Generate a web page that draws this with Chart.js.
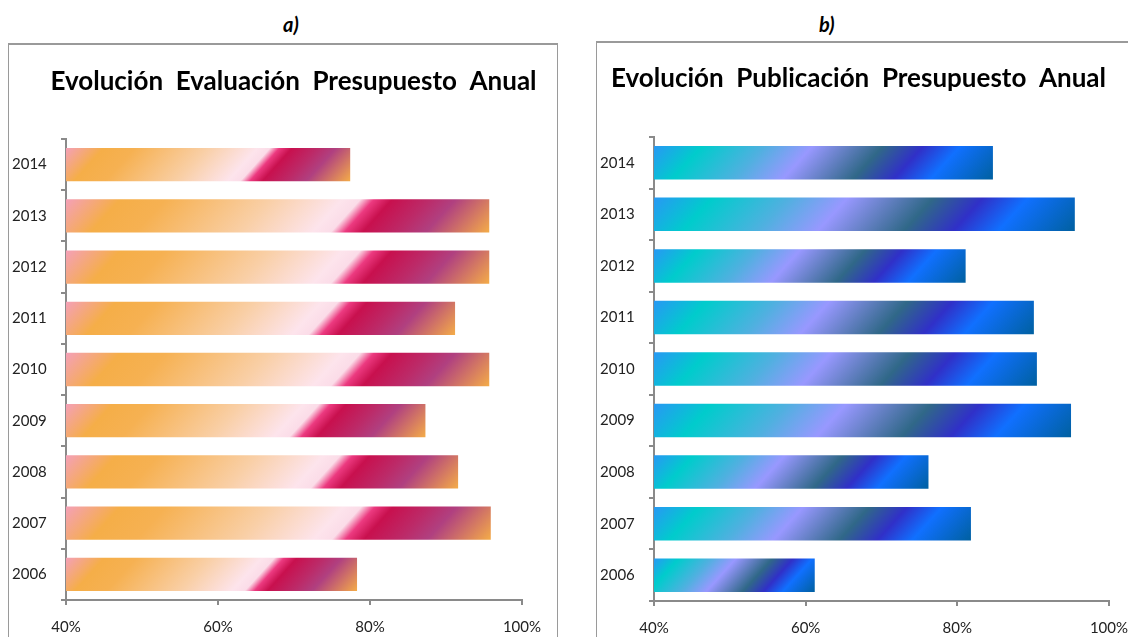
<!DOCTYPE html>
<html>
<head>
<meta charset="utf-8">
<script src="https://cdn.jsdelivr.net/npm/chart.js@4"></script>
<style>
  body { margin: 0; width: 1128px; height: 637px; overflow: hidden; background: #fff; font-family: Lato, "Open Sans", sans-serif; position: relative; }
  .lbl { position: absolute; top: 12px; font: italic bold 20px Lato, sans-serif; color: #000; }
  .box { position: absolute; border: 1px solid #9a9a9a; border-top-width: 2px; background: #fff; }
  canvas { position: absolute; }
</style>
</head>
<body>
<div class="lbl" style="left:283px">a)</div>
<div class="lbl" style="left:819px">b)</div>
<div class="box" style="left:8px; top:43px; width:548px; height:620px;"></div>
<div class="box" style="left:596px; top:41px; width:560px; height:620px;"></div>
<canvas id="chartA" width="545" height="593" style="left:9px; top:44px; width:545px; height:593px;"></canvas>
<canvas id="chartB" width="544" height="595" style="left:597px; top:42px; width:544px; height:595px;"></canvas>
<script>
// Datos (2006 -> 2014)
const years = ["2006", "2007", "2008", "2009", "2010", "2011", "2012", "2013", "2014"];
const evaluacion = [78.3, 95.9, 91.6, 87.3, 95.7, 91.2, 95.7, 95.7, 77.4];
const publicacion = [61.2, 81.8, 76.2, 95.0, 90.5, 90.1, 81.1, 95.5, 84.7];
const xTicks = [40, 60, 80, 100];

const BAR_PCT = 0.65;

// degradados tipo Excel
const warmStops = [
    [0.00, "#f4a0b8"], [0.12, "#f5ae48"], [0.22, "#f6b152"], [0.45, "#f9cfa6"],
    [0.61, "#fde4ec"], [0.65, "#fbdce8"], [0.68, "#ec3a80"], [0.72, "#c8104e"],
    [0.80, "#bc2a68"], [0.86, "#b04080"], [1.00, "#f4ac48"],
];
const coolStops = [
    [0.00, "#2898f4"], [0.13, "#00cccc"], [0.30, "#50b0e0"], [0.43, "#9898ff"],
    [0.62, "#306888"], [0.73, "#3030c8"], [0.83, "#1070ff"], [1.00, "#0060a0"],
];

function barGradient(ctx, stops) {
    const chart = ctx.chart;
    const xs = chart.scales.x, ys = chart.scales.y;
    const fallback = stops[1][1];
    if (!xs || !ys || ctx.raw == null || !chart.chartArea) return fallback;
    const x0 = xs.getPixelForValue(xs.min);
    const x1 = xs.getPixelForValue(ctx.raw);
    const h = (ys.height / years.length) * BAR_PCT;
    const top = ys.getPixelForValue(ctx.dataIndex) - h / 2;
    if (![x0, x1, h, top].every(Number.isFinite)) return fallback;
    const w = Math.max(x1 - x0, 1);
    const t = (w + 0.9 * h) / 1.81;
    const g = chart.ctx.createLinearGradient(x0, top, x0 + t, top + 0.9 * t);
    stops.forEach(([p, c]) => g.addColorStop(p, c));
    return g;
}

const axisColor = "#8a8a8a";
const tickFont = { family: "Lato, 'Open Sans', sans-serif", size: 15 };

function makeChart(id, title, values, stops, opts) {
    return new Chart(document.getElementById(id), {
        type: "bar",
        data: {
            labels: years,
            datasets: [{
                data: values,
                backgroundColor: (c) => barGradient(c, stops),
                borderWidth: 0,
                barPercentage: BAR_PCT,
                categoryPercentage: 1,
            }],
        },
        options: {
            indexAxis: "y",
            responsive: false,
            animation: false,
            layout: { padding: { left: opts.padLeft, right: opts.padRight, top: 0, bottom: 0 } },
            scales: {
                x: {
                    min: 40,
                    max: 100,
                    afterBuildTicks: (s) => { s.ticks = xTicks.map((v) => ({ value: v })); },
                    afterFit: (s) => { s.height = opts.xHeight; },
                    ticks: {
                        font: tickFont,
                        color: "#222",
                        padding: 13,
                        maxRotation: 0,
                        callback: (v) => v + "%",
                    },
                    grid: { drawOnChartArea: false, drawTicks: true, tickLength: 5, color: axisColor, lineWidth: 2 },
                    border: { color: axisColor, width: 2 },
                },
                y: {
                    reverse: true,
                    afterFit: (s) => { s.width = 57 - opts.padLeft; },
                    // etiquetas alineadas a la izquierda, fuera del eje
                    ticks: { font: tickFont, color: "#222", mirror: true, padding: -54 },
                    grid: { drawOnChartArea: false, drawTicks: true, tickLength: 5, color: axisColor, lineWidth: 2, offset: true },
                    border: { color: axisColor, width: 2 },
                },
            },
            plugins: {
                legend: { display: false },
                tooltip: { enabled: false },
                title: {
                    display: true,
                    text: title,
                    color: "#000",
                    font: { family: "Lato, 'Open Sans', sans-serif", size: 26, weight: "bold" },
                    padding: { top: opts.titleTop, bottom: opts.titleBottom },
                },
            },
        },
    });
}

makeChart("chartA", "Evolución  Evaluación  Presupuesto  Anual", evaluacion, warmStops,
    { padLeft: 34.5, padRight: 10.5, xHeight: 37, titleTop: 22.4, titleBottom: 41.4 });
makeChart("chartB", "Evolución  Publicación  Presupuesto  Anual", publicacion, coolStops,
    { padLeft: 0, padRight: 21, xHeight: 36, titleTop: 21.4, titleBottom: 42.4 });
</script>
</body>
</html>
